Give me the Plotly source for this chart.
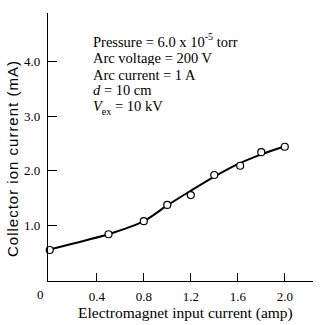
import plotly.graph_objects as go

# measured points
x_pts = [0.0, 0.5, 0.8, 1.0, 1.2, 1.4, 1.62, 1.8, 2.0]
y_pts = [0.54, 0.83, 1.07, 1.37, 1.55, 1.92, 2.09, 2.34, 2.44]

# fitted smooth curve
x_fit = [0.0, 0.2, 0.5, 0.8, 1.0, 1.2, 1.4, 1.6, 1.8, 2.0]
y_fit = [0.55, 0.66, 0.83, 1.07, 1.36, 1.63, 1.89, 2.12, 2.30, 2.45]

x_ticks = [0.4, 0.8, 1.2, 1.6, 2.0]
x_tick_labels = ["0.4", "0.8", "1.2", "1.6", "2.0"]
y_ticks = [1.0, 2.0, 3.0, 4.0]
y_tick_labels = ["1.0", "2.0", "3.0", "4.0"]

info_lines = [
    "Pressure = 6.0 x 10<sup>-5</sup> torr",
    "Arc voltage = 200 V",
    "Arc current = 1 A",
    "<i>d</i> = 10 cm",
    "<i>V</i><sub>ex</sub> = 10 kV",
]
info_line_px = [41, 58, 74, 89, 107]

FONT = "Liberation Serif, Times New Roman, serif"
SANS = "Liberation Sans, Arial, sans-serif"

W, H = 322, 325
# plot area in page pixels
PX0, PX1, PY0, PY1 = 48, 313, 13, 281
L, R, T, B = PX0, W - PX1, PY0, H - PY1
PW, PH = PX1 - PX0, PY1 - PY0

fig = go.Figure()
fig.add_trace(go.Scatter(x=x_fit, y=y_fit, mode="lines",
                         line=dict(color="black", width=2, shape="spline", smoothing=0.8),
                         hoverinfo="skip", showlegend=False))
fig.add_trace(go.Scatter(x=x_pts, y=y_pts, mode="markers",
                         marker=dict(symbol="circle", size=7, color="white",
                                     line=dict(color="black", width=1.2)),
                         showlegend=False, cliponaxis=False))

for txt, ypx in zip(info_lines, info_line_px):
    fig.add_annotation(x=(91 - PX0) / PW, y=(PY1 - ypx) / PH, xref="paper", yref="paper",
                       xanchor="left", yanchor="middle", text=txt, showarrow=False,
                       height=15, valign="middle",
                       font=dict(family=FONT, size=14.5, color="black"))

fig.add_annotation(x=(40 - PX0) / PW, y=0, yshift=-13, xref="paper", yref="paper",
                   xanchor="center", yanchor="middle", text="0", showarrow=False,
                   font=dict(family=FONT, size=13, color="black"))

fig.add_annotation(x=(185 - PX0) / PW, y=0, yshift=-(313 - PY1), xref="paper", yref="paper",
                   xanchor="center", yanchor="middle", showarrow=False,
                   text="Electromagnet input current (amp)",
                   font=dict(family=FONT, size=15.5, color="black"))
fig.add_annotation(x=0, xshift=-(PX0 - 12), y=(PY1 - 159) / PH, xref="paper", yref="paper",
                   xanchor="center", yanchor="middle", showarrow=False, textangle=-90,
                   text='<span style="letter-spacing:1px">Collector ion current (mA)</span>',
                   font=dict(family=SANS, size=15, color="black"))

fig.update_layout(
    width=W, height=H,
    margin=dict(l=L, r=R, t=T, b=B),
    paper_bgcolor="white", plot_bgcolor="white",
    font=dict(family=FONT, size=13, color="black"),
    xaxis=dict(range=[-0.015, 2.24], showgrid=False, zeroline=False, automargin=False,
               showline=True, linecolor="black", linewidth=1.2,
               ticks="inside", ticklen=8, tickcolor="black",
               tickvals=x_ticks, ticktext=x_tick_labels, ticklabelstandoff=3),
    yaxis=dict(range=[-0.03, 4.9], showgrid=False, zeroline=False, automargin=False,
               showline=True, linecolor="black", linewidth=1.2,
               ticks="inside", ticklen=9, tickcolor="black",
               tickvals=y_ticks, ticktext=y_tick_labels, ticklabelstandoff=4),
)

fig.write_html("out.html", config={"displayModeBar": False},
               post_script="document.body.style.margin='0';")
